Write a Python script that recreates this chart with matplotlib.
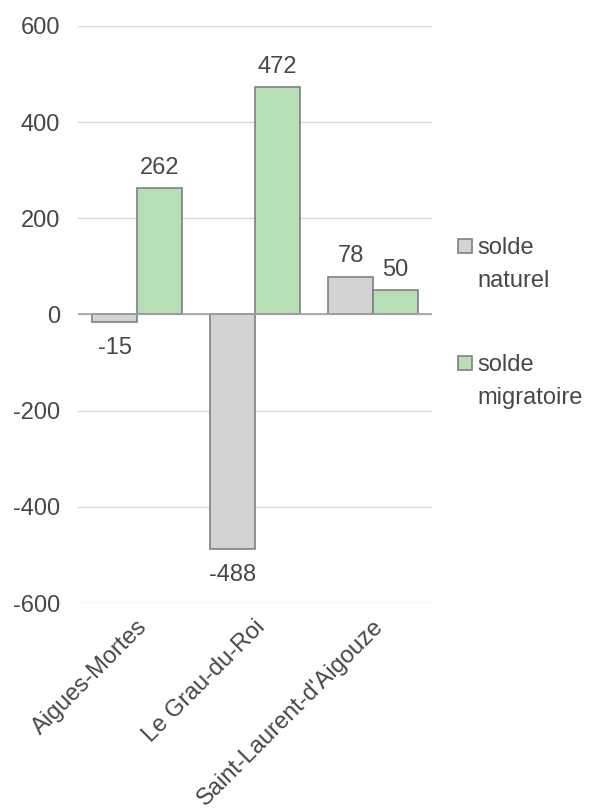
import matplotlib
matplotlib.use("Agg")
import matplotlib.pyplot as plt
from matplotlib.patches import Rectangle
from matplotlib.transforms import ScaledTranslation
import numpy as np

plt.rcParams['font.family'] = ['Liberation Sans', 'DejaVu Sans']

communes = ["Aigues-Mortes", "Le Grau-du-Roi", "Saint-Laurent-d'Aigouze"]
solde_naturel = [-15, -488, 78]
solde_migratoire = [262, 472, 50]
series_labels = ["solde\nnaturel", "solde\nmigratoire"]
yticks = [-600, -400, -200, 0, 200, 400, 600]

text_color = '#474747'
grey = '#d3d3d3'
green = '#b7dfb5'
edge = '#808080'
fs = 17

fig = plt.figure(figsize=(5.92, 8.09), dpi=100)
ax = fig.add_axes([0.132, 0.2546, 0.598, 0.7134])

x = np.arange(len(communes))
w = 0.381
b1 = ax.bar(x - w / 2, solde_naturel, w, color=grey, edgecolor=edge, linewidth=1.2, zorder=3)
b2 = ax.bar(x + w / 2, solde_migratoire, w, color=green, edgecolor=edge, linewidth=1.2, zorder=3)

for bars, vals in ((b1, solde_naturel), (b2, solde_migratoire)):
    for rect, v in zip(bars, vals):
        cx = rect.get_x() + rect.get_width() / 2
        if v >= 0:
            ax.annotate(str(v), (cx, v), xytext=(0, 10.5), textcoords='offset points',
                        ha='center', va='baseline', fontsize=fs, color=text_color)
        else:
            ax.annotate(str(v), (cx, v), xytext=(0, -11), textcoords='offset points',
                        ha='center', va='top', fontsize=fs, color=text_color)

ax.set_xlim(-0.5, len(communes) - 0.5)
ax.set_ylim(-600, 600)
ax.set_yticks(yticks)
ax.set_yticklabels([str(t) for t in yticks])
ax.yaxis.grid(True, color='#d9d9d9', linewidth=1.0, zorder=0)
ax.axhline(0, color='#a0a0a0', linewidth=1.2, zorder=4)
for s in ax.spines.values():
    s.set_visible(False)
ax.tick_params(axis='y', length=0, pad=13, labelsize=fs, labelcolor=text_color)
ax.tick_params(axis='x', length=0, pad=6, labelsize=fs, labelcolor=text_color)
ax.set_xticks(x)
ax.set_xticklabels(communes, rotation=45, ha='right', va='center', rotation_mode='anchor')
for lbl in ax.get_xticklabels():
    lbl.set_transform(lbl.get_transform() + ScaledTranslation(7 / 100, -12 / 100, fig.dpi_scale_trans))

# legend drawn in figure pixel coordinates
H = 809.0
W = 592.0
entries = [(grey, series_labels[0], 239), (green, series_labels[1], 356)]
for color, label, ytop in entries:
    fig.patches.append(Rectangle((458 / W, 1 - (ytop + 14) / H), 14 / W, 14 / H,
                                 transform=fig.transFigure, facecolor=color,
                                 edgecolor=edge, linewidth=1.2))
    for i, line in enumerate(label.split("\n")):
        fig.text(477 / W, 1 - (ytop + 15 + 33 * i) / H, line, ha='left', va='baseline',
                 fontsize=fs, color=text_color)

fig.savefig("out.png", dpi=100)
